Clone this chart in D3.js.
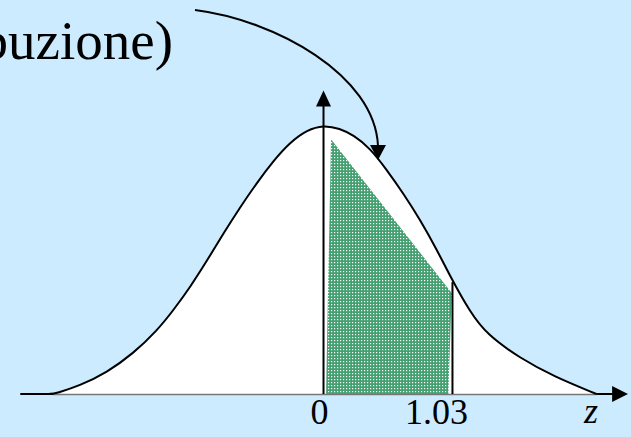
<!DOCTYPE html>
<html>
<head>
<meta charset="utf-8">
<script src="https://cdn.jsdelivr.net/npm/d3@7"></script>
<style>
  html, body { margin: 0; padding: 0; background: #cdebff; }
  svg { display: block; }
</style>
</head>
<body>
<div id="chart"></div>
<script>
// curve (z, density)
const curveZ = [-2.42, -2.16, -2.14, -1.95, -1.73, -1.52, -1.33, -1.20, -1.06, -0.93, -0.80, -0.67, -0.53, -0.40, -0.27, -0.13, 0,
                0.13, 0.24, 0.37, 0.50, 0.64, 0.77, 0.90, 1.03, 1.17, 1.30, 1.57, 1.84, 2.18];
const curveD = [0, 0, 0.001, 0.012, 0.032, 0.060, 0.094, 0.124, 0.160, 0.198, 0.238, 0.276, 0.314, 0.346, 0.373, 0.392, 0.399,
                0.394, 0.384, 0.365, 0.334, 0.297, 0.259, 0.216, 0.168, 0.122, 0.089, 0.053, 0.026, 0];
// shaded region corners
const shadeZ = [0.02, 0.06, 1.024, 0.997];
const shadeD = [0, 0.378, 0.150, 0];
// cut value and its height on the curve
const cutZ = 1.03;
const cutD = 0.166;
// tick labels
const tickText = ['0', '1.03'];
const tickZ = [0, 1.03];
const axisName = 'z';
const title = 'distribuzione)';

const width = 631, height = 437;

const x = d3.scaleLinear().domain([-2.584, 2.456]).range([0, width]);
const y = d3.scaleLinear().domain([0, 0.5846]).range([394, 0]);

const svg = d3.select('#chart').append('svg')
    .attr('width', width)
    .attr('height', height);

svg.append('rect')
    .attr('width', width)
    .attr('height', height)
    .attr('fill', '#cdebff');

// dotted green pattern
const pat = svg.append('defs').append('pattern')
    .attr('id', 'dots')
    .attr('patternUnits', 'userSpaceOnUse')
    .attr('width', 3)
    .attr('height', 3);
pat.append('rect')
    .attr('width', 3)
    .attr('height', 3)
    .attr('fill', '#44a070');
pat.append('rect')
    .attr('x', 1)
    .attr('y', 1)
    .attr('width', 1.2)
    .attr('height', 1.2)
    .attr('fill', '#ffffff');

const pts = curveZ.map((z, i) => [z, curveD[i]]);

// horizontal axis
svg.append('line')
    .attr('x1', x(-2.42))
    .attr('x2', x(2.32))
    .attr('y1', y(0))
    .attr('y2', y(0))
    .attr('stroke', '#000')
    .attr('stroke-width', 2);
svg.append('path')
    .attr('d', `M${x(2.432)},${y(0)} L${x(2.305)},${y(0) - 8} L${x(2.305)},${y(0) + 8} Z`)
    .attr('fill', '#000');

// white area under curve
svg.append('path')
    .datum(pts)
    .attr('d', d3.area()
        .x(d => x(d[0]))
        .y0(y(0))
        .y1(d => y(d[1]))
        .curve(d3.curveBasis))
    .attr('fill', '#fff');

svg.append('line')
    .attr('x1', x(-2.16))
    .attr('x2', x(2.18))
    .attr('y1', y(0) + 0.5)
    .attr('y2', y(0) + 0.5)
    .attr('stroke', '#777')
    .attr('stroke-width', 1.5);

// shaded region
svg.append('path')
    .attr('d', d3.line()(shadeZ.map((z, i) => [x(z), y(shadeD[i])])) + 'Z')
    .attr('fill', 'url(#dots)');

// curve
svg.append('path')
    .datum(pts)
    .attr('d', d3.line()
        .x(d => x(d[0]))
        .y(d => y(d[1]))
        .curve(d3.curveBasis))
    .attr('fill', 'none')
    .attr('stroke', '#000')
    .attr('stroke-width', 2);

// vertical axis
svg.append('line')
    .attr('x1', x(0))
    .attr('x2', x(0))
    .attr('y1', y(0))
    .attr('y2', y(0.43))
    .attr('stroke', '#000')
    .attr('stroke-width', 2);
svg.append('path')
    .attr('d', `M${x(0)},${y(0.4502)} L${x(0) - 7.5},${y(0.4265)} L${x(0) + 7.5},${y(0.4265)} Z`)
    .attr('fill', '#000');

// cut line
svg.append('line')
    .attr('x1', x(cutZ))
    .attr('x2', x(cutZ))
    .attr('y1', y(0))
    .attr('y2', y(cutD))
    .attr('stroke', '#000')
    .attr('stroke-width', 2);

// curved pointer
svg.append('path')
    .attr('d', 'M195,10 C275,20 375,75 378,146')
    .attr('fill', 'none')
    .attr('stroke', '#000')
    .attr('stroke-width', 2);
svg.append('path')
    .attr('d', 'M378,160 L370,145 L386,145 Z')
    .attr('fill', '#000');

// labels
const labelOffset = [-4, -16];
svg.selectAll('.tick-label')
    .data(tickText)
    .enter()
    .append('text')
    .attr('class', 'tick-label')
    .attr('x', (d, i) => x(tickZ[i]) + labelOffset[i])
    .attr('y', 424)
    .text(d => d)
    .style('font-family', '"Liberation Serif", "Times New Roman", serif')
    .style('font-size', '36px')
    .style('text-anchor', 'middle');

svg.append('text')
    .attr('x', 591)
    .attr('y', 423)
    .text(axisName)
    .style('font-family', '"Liberation Serif", "Times New Roman", serif')
    .style('font-style', 'italic')
    .style('font-size', '36px')
    .style('text-anchor', 'middle');

svg.append('text')
    .attr('x', 173)
    .attr('y', 59)
    .text(title)
    .style('font-family', '"Liberation Serif", "Times New Roman", serif')
    .style('font-size', '55px')
    .style('text-anchor', 'end');
</script>
</body>
</html>
